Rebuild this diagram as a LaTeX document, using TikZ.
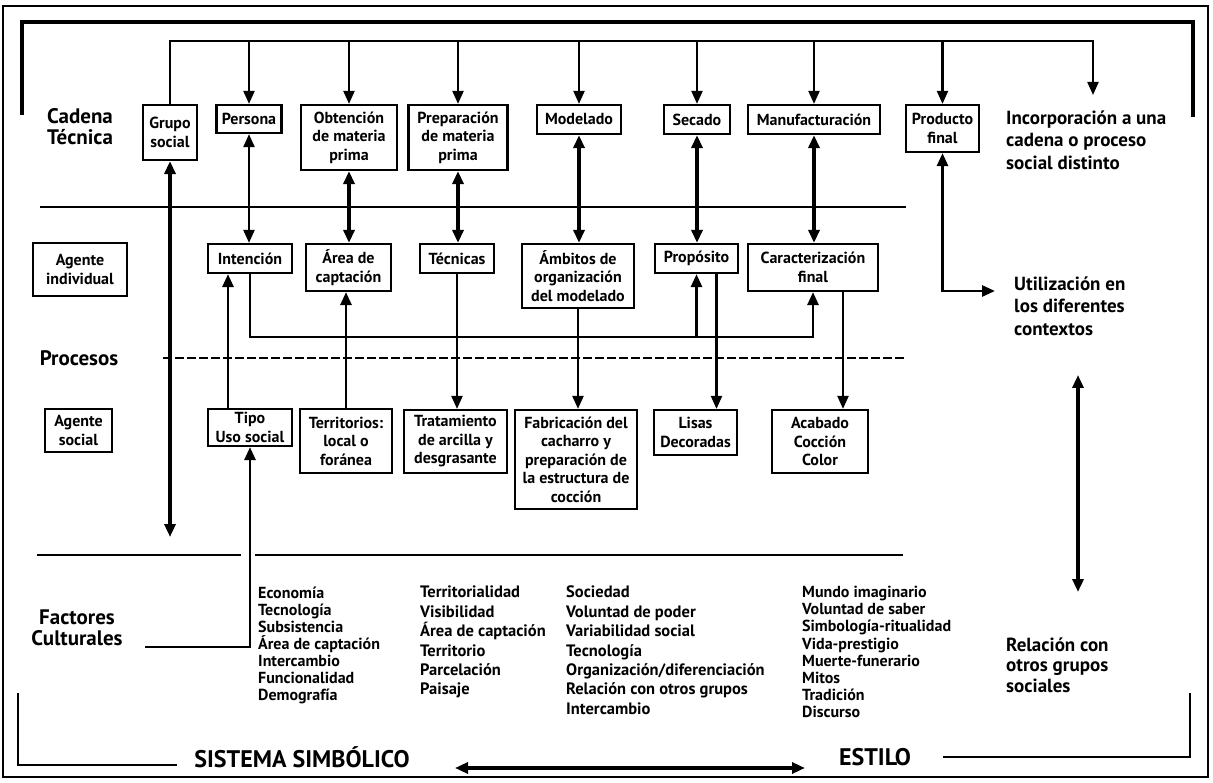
\documentclass[tikz,border=0pt]{standalone}
\usepackage{fontspec}
\setmainfont{PT Sans}
\usetikzlibrary{arrows.meta,calc}
\begin{document}
\begin{tikzpicture}[x=1pt,y=-1pt,
  bx/.style={draw, line width=2.2pt, align=center, inner sep=0pt,
    font=\fontsize{16}{18.5}\selectfont\bfseries},
  thinl/.style={line width=2.2pt},
  midl/.style={line width=2.8pt},
  thickl/.style={line width=3.8pt},
  sep/.style={line width=2.6pt},
  a/.style={-{Triangle[width=11pt,length=13pt]}},
  aa/.style={{Triangle[width=11pt,length=13pt]}-{Triangle[width=11pt,length=13pt]}},
  lbl/.style={align=center, inner sep=0pt, font=\fontsize{21}{21}\selectfont\bfseries},
  side/.style={align=left, inner sep=0pt, anchor=west, font=\fontsize{19}{22.5}\selectfont\bfseries},
  big/.style={inner sep=0pt, font=\fontsize{24}{25}\selectfont\bfseries},
  col/.style={align=left, inner sep=0pt, anchor=north west}
]
\useasboundingbox (0,0) rectangle (1213,783);
% outer frame
\draw[line width=1.2pt] (3,6) rectangle (1208,777);

% ---- boxes, cadena tecnica
\node[bx, minimum width=54pt, minimum height=55pt] (gs) at (170,132.5) {Grupo\\social};
\node[bx, minimum width=65pt, minimum height=28pt] (per) at (249,119) {Persona};
\node[bx, minimum width=96pt, minimum height=65pt] (obt) at (349,137.5) {Obtención\\de materia\\prima};
\node[bx, minimum width=99pt, minimum height=65pt] (prep) at (458,137.5) {Preparación\\de materia\\prima};
\node[bx, minimum width=84pt, minimum height=29pt] (mod) at (579,119.5) {Modelado};
\node[bx, minimum width=66pt, minimum height=29pt] (sec) at (697,119.5) {Secado};
\node[bx, minimum width=132pt, minimum height=29pt] (man) at (814,119.5) {Manufacturación};
\node[bx, minimum width=73pt, minimum height=47pt] (pf) at (942.5,128.5) {Producto\\final};

% ---- agente individual row
\node[bx, minimum width=94pt, minimum height=53pt] (ai) at (80,269.5) {Agente\\individual};
\node[bx, minimum width=84pt, minimum height=29pt] (int) at (250,258.5) {Intención};
\node[bx, minimum width=85pt, minimum height=47pt] (area) at (348.5,267.5) {Área de\\captación};
\node[bx, minimum width=74pt, minimum height=29pt] (tec) at (457,258.5) {Técnicas};
\node[bx, minimum width=112pt, minimum height=64pt] (amb) at (578,276) {Ámbitos de\\organización\\del modelado};
\node[bx, minimum width=83pt, minimum height=29pt] (prop) at (696.5,258.5) {Propósito};
\node[bx, minimum width=130pt, minimum height=47pt] (car) at (813,267.5) {Caracterización\\final};

% ---- agente social row
\node[bx, minimum width=67pt, minimum height=43pt] (as) at (78.5,430.5) {Agente\\social};
\node[bx, minimum width=84pt, minimum height=37pt] (tipo) at (250,427.5) {Tipo\\Uso social};
\node[bx, minimum width=92pt, minimum height=64pt] (ter) at (346,441) {Territorios:\\local o\\foránea};
\node[bx, minimum width=103pt, minimum height=63pt] (tra) at (455.5,441.5) {Tratamiento\\de arcilla y\\desgrasante};
\node[bx, minimum width=122pt, minimum height=99pt] (fab) at (576,459.5) {Fabricación del\\cacharro y\\preparación de\\la estructura de\\cocción};
\node[bx, minimum width=83pt, minimum height=45pt] (lis) at (695.5,432.5) {Lisas\\Decoradas};
\node[bx, minimum width=96pt, minimum height=63pt] (aca) at (820,441.5) {Acabado\\Cocción\\Color};

% ---- labels
\node[lbl] (ct) at (80,127) {Cadena\\Técnica};
\node[lbl] (proc) at (79,358) {Procesos};
\node[lbl] (fct) at (77,628) {Factores\\Culturales};
\node[side] (incp) at (1006,140) {Incorporación a una\\cadena o proceso\\social distinto};
\node[side] (utl) at (1014,306) {Utilización en\\los diferentes\\contextos};
\node[side, font=\fontsize{19}{20.5}\selectfont\bfseries] (rel) at (1006,665) {Relación con\\otros grupos\\sociales};
\node[big] (ss) at (302,757) {SISTEMA SIMBÓLICO};
\node[big] (est) at (875,757) {ESTILO};

% ---- factor columns
\node[col, font=\fontsize{16}{17}\selectfont\bfseries] (c1) at (258,587) {Economía\\Tecnología\\Subsistencia\\Área de captación\\Intercambio\\Funcionalidad\\Demografía};
\node[col, font=\fontsize{16.5}{19.4}\selectfont\bfseries] (c2) at (420,586) {Territorialidad\\Visibilidad\\Área de captación\\Territorio\\Parcelación\\Paisaje};
\node[col, font=\fontsize{16.5}{19.4}\selectfont\bfseries] (c3) at (566,586) {Sociedad\\Voluntad de poder\\Variabilidad social\\Tecnología\\Organización/diferenciación\\Relación con otros grupos\\Intercambio};
\node[col, font=\fontsize{16}{17.2}\selectfont\bfseries] (c4) at (802,586) {Mundo imaginario\\Voluntad de saber\\Simbología-ritualidad\\Vida-prestigio\\Muerte-funerario\\Mitos\\Tradición\\Discurso};

% ---- coordinates
\coordinate (brL) at (22,115);
\coordinate (brLt) at (22,22);
\coordinate (brRt) at (1193,22);
\coordinate (brR) at (1193,117);
\coordinate (bus) at (1093,41);
\coordinate (inc) at (1093,95);
\coordinate (gsd) at (170,537);
\coordinate (util) at (995,291);
\coordinate (loop) at (813,337);
\coordinate (fcs) at (145,647);
\coordinate (r1) at (1078,375);
\coordinate (r2) at (1078,592);
\coordinate (bl1) at (18,693);
\coordinate (bl2) at (177,765);
\coordinate (ha1) at (455,768);
\coordinate (ha2) at (805,768);
\coordinate (br1) at (943,757);
\coordinate (br2) at (1190,693);

% ---- bracket and bus
\draw[thickl] (brL) -- (brLt) -- (brRt) -- (brR);
\draw[thinl, a] (gs.north) |- (bus) -- (inc);
\foreach \n in {per,obt,prep,mod,sec,man,pf}
  \draw[thinl, a] (\n.north |- bus) -- (\n.north);

% ---- separators
\draw[sep] (40,207) -- (906,207);
\draw[sep, dash pattern=on 9pt off 3pt] (163,358) -- (905,358);
\draw[sep] (37,555) -- (241,555);
\draw[sep] (255,555) -- (903,555);

% ---- vertical links between rows
\draw[thinl, aa] (per.south) -- (per.south |- int.north);
\draw[thickl, aa] (obt.south) -- (obt.south |- area.north);
\draw[thickl, aa] (prep.south) -- (prep.south |- tec.north);
\draw[thickl, aa] (mod.south) -- (mod.south |- amb.north);
\draw[thickl, aa] (sec.south) -- (sec.south |- prop.north);
\draw[thickl, aa] (man.south) -- (man.south |- car.north);
\draw[thickl, aa] (gs.south) -- (gsd);
\draw[midl, aa] (pf.south) |- (util);

% ---- processes
\draw[midl, a] (int.south) |- (loop) -- (car.south);
\draw[midl, a] (prop.south |- loop) -- (prop.south);
\draw[midl, a] ([xshift=-22pt]tipo.north) -- ([xshift=-22pt]int.south);
\draw[midl, a] (ter.north) -- (ter.north |- area.south);
\draw[thinl, a] (tec.south) -- (tec.south |- tra.north);
\draw[thinl, a] (amb.south) -- (amb.south |- fab.north);
\draw[thinl, a] ([xshift=20pt]prop.south) -- ([xshift=20pt]prop.south |- lis.north);
\draw[thinl, a] ([xshift=30pt]car.south) -- ([xshift=30pt]car.south |- aca.north);
\draw[midl, a] (fcs) -| (tipo.south);

% ---- right side and bottom
\draw[thickl, aa] (r1) -- (r2);
\draw[midl] (bl1) |- (bl2);
\draw[thickl, aa] (ha1) -- (ha2);
\draw[midl] (br1) -| (br2);
\end{tikzpicture}
\end{document}
